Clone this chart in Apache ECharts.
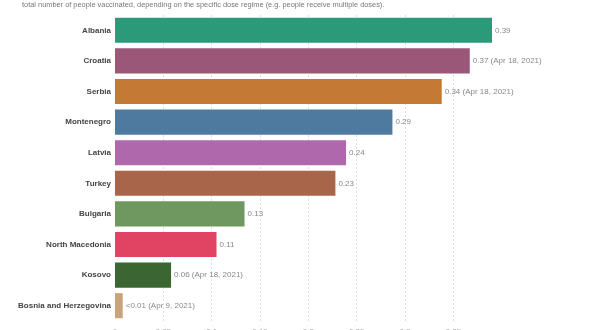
<!DOCTYPE html>
<html><head><meta charset="utf-8">
<script src="https://cdn.jsdelivr.net/npm/echarts@6/dist/echarts.min.js"></script>
<style>html,body{margin:0;padding:0;background:#fff}#c{width:600px;height:330px}</style>
</head><body><div id="c"></div>
<script>
const countries = ["Albania","Croatia","Serbia","Montenegro","Latvia","Turkey","Bulgaria","North Macedonia","Kosovo","Bosnia and Herzegovina"];
const values = [0.39,0.367,0.338,0.287,0.239,0.228,0.134,0.105,0.058,0.008];
const valueLabels = ["0.39","0.37 (Apr 18, 2021)","0.34 (Apr 18, 2021)","0.29","0.24","0.23","0.13","0.11","0.06 (Apr 18, 2021)","<0.01 (Apr 9, 2021)"];
const colors = ["#2a9a78","#9b5778","#c47a35","#4f7aa0","#b068ad","#a8654a","#6e9860","#e04462","#3b6632","#c9a37a"];
const subtitle = "total number of people vaccinated, depending on the specific dose regime (e.g. people receive multiple doses).";

const FONT = 'Liberation Sans, Arial, sans-serif';
const chart = echarts.init(document.getElementById('c'), null, {renderer:'canvas'});
chart.setOption({
  animation:false,
  backgroundColor:'#fff',
  title:{text:subtitle,left:17,top:-4,textStyle:{fontSize:7.4,fontWeight:'normal',color:'#777',fontFamily:FONT}},
  grid:{left:115,right:108,top:15,bottom:9,containLabel:false,outerBoundsMode:'none'},
  xAxis:{type:'value',min:0,max:0.39,interval:0.05,
    axisLine:{show:false},axisTick:{show:false},
    axisLabel:{fontSize:8,color:'#aaa',margin:7,showMaxLabel:false,fontFamily:FONT},
    splitLine:{show:true,showMaxLine:false,showMinLine:false,lineStyle:{type:[2,2],color:'#ddd',width:1}}},
  yAxis:{type:'category',data:countries,inverse:true,
    axisLine:{show:false},axisTick:{show:false},
    axisLabel:{fontSize:8,fontWeight:'bold',color:'#444',margin:4,fontFamily:FONT}},
  series:[{type:'bar',data:values.map((v,i)=>({value:v,itemStyle:{color:colors[i]}})),
    barCategoryGap:'18%',
    label:{show:true,position:'right',distance:3,fontSize:8,color:'#888',fontFamily:FONT,
      formatter:p=>valueLabels[p.dataIndex]}}]
});
</script></body></html>
